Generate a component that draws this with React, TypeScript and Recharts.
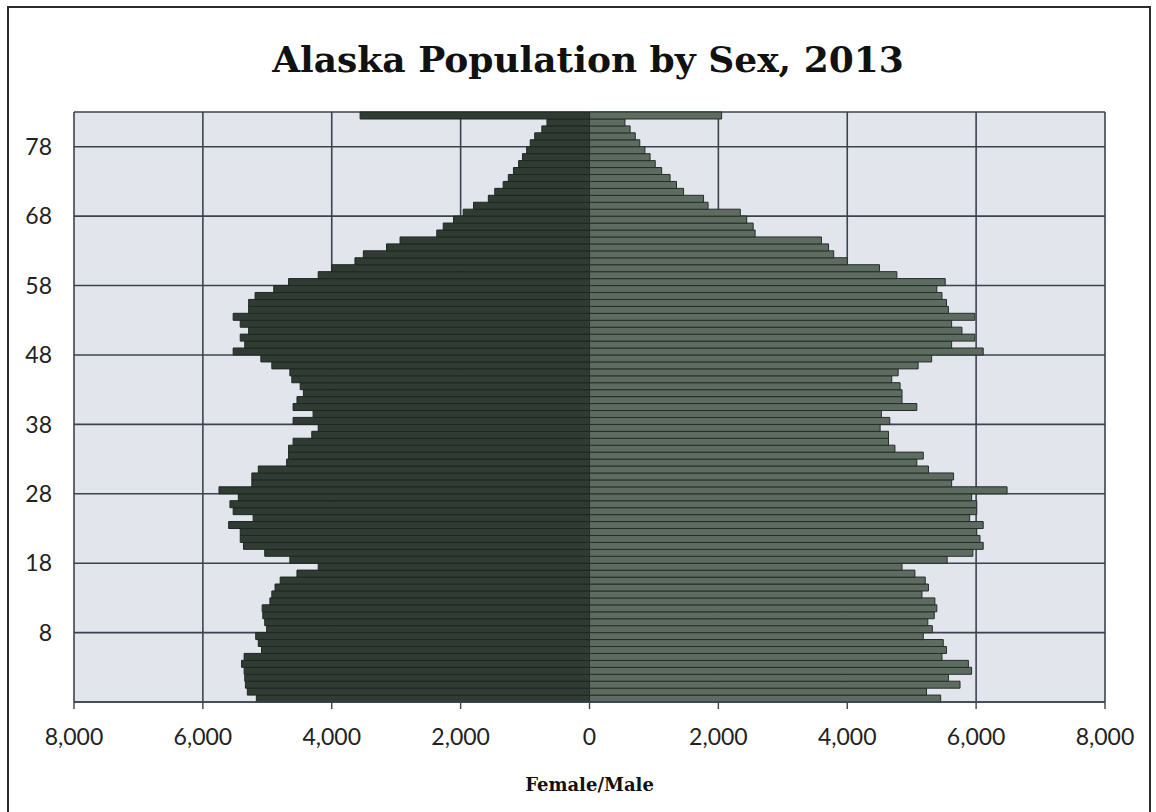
import React from "react";
import { BarChart, Bar, XAxis, YAxis, CartesianGrid } from "recharts";

// one row per single year, youngest at the bottom (index 0)
const ages = Array.from({ length: 85 }, (_, i) => i);

const female = [
  5170, 5310, 5340, 5350, 5360, 5400, 5360, 5090, 5140, 5180,
  5010, 5040, 5070, 5080, 4960, 4930, 4880, 4800, 4540, 4210,
  4650, 5040, 5370, 5420, 5420, 5600, 5220, 5530, 5580, 5450,
  5750, 5240, 5240, 5140, 4700, 4670, 4670, 4600, 4310, 4210,
  4600, 4290, 4600, 4540, 4440, 4490, 4620, 4650, 4930, 5100,
  5530, 5350, 5420, 5290, 5420, 5530, 5290, 5290, 5190, 4900,
  4670, 4210, 4000, 3640, 3510, 3150, 2940, 2370, 2270, 2110,
  1960, 1800, 1570, 1470, 1340, 1260, 1180, 1100, 1040, 975,
  920, 850, 740, 660, 3560,
];

const male = [
  5450, 5230, 5750, 5570, 5930, 5880, 5470, 5540, 5490, 5180,
  5320, 5250, 5350, 5390, 5360, 5160, 5260, 5210, 5050, 4850,
  5550, 5950, 6110, 6060, 6010, 6110, 5900, 6010, 6010, 5930,
  6480, 5620, 5650, 5260, 5080, 5180, 4740, 4640, 4640, 4510,
  4660, 4530, 5080, 4850, 4850, 4820, 4690, 4790, 5100, 5310,
  6110, 5620, 5980, 5780, 5620, 5980, 5570, 5540, 5470, 5390,
  5520, 4770, 4500, 4000, 3790, 3710, 3600, 2570, 2540, 2440,
  2340, 1840, 1770, 1460, 1350, 1250, 1120, 1020, 940, 860,
  780, 710, 630, 550, 2050,
];

// gridlines sit on the lower edge of these rows
const gridRows = [10, 20, 30, 40, 50, 60, 70, 80];
const ageTickLabels = ["8", "18", "28", "38", "48", "58", "68", "78"];
const xTicks = [-8000, -6000, -4000, -2000, 0, 2000, 4000, 6000, 8000];

const data = ages.map((age, i) => ({ age, female: -female[i], male: male[i] }));

const W = 1156;
const H = 812;
const PLOT_H = 590;
const band = PLOT_H / ages.length;
const gridColor = "#3b4350";
const labelFont = "Lato, 'Open Sans', sans-serif";

function AgeTick(props: any) {
  const { x, y, payload } = props;
  const idx = gridRows.indexOf(payload.value);
  if (idx < 0) return <g />;
  return (
    <text
      x={x}
      y={y + band / 2}
      dy="0.36em"
      textAnchor="end"
      fontSize={23}
      fontFamily={labelFont}
      fill="#222"
    >
      {ageTickLabels[idx]}
    </text>
  );
}

export default function App() {
  return (
    <div
      style={{
        position: "absolute",
        left: 0,
        top: 0,
        width: W,
        height: H,
        overflow: "hidden",
        background: "#fff",
      }}
    >
      <div
        style={{
          position: "absolute",
          left: 7,
          top: 6,
          width: 1144,
          height: 820,
          border: "2px solid #2a2a2a",
          boxSizing: "border-box",
        }}
      />
      <div
        style={{
          position: "absolute",
          left: 88,
          top: 37,
          width: 1000,
          textAlign: "center",
          fontFamily: "'DejaVu Serif', serif",
          fontWeight: "bold",
          fontSize: 36,
          lineHeight: "44px",
          color: "#111",
        }}
      >
        Alaska Population by Sex, 2013
      </div>
      <div style={{ position: "absolute", left: 0, top: 0 }}>
        <BarChart
          width={W}
          height={H}
          data={data}
          layout="vertical"
          stackOffset="sign"
          barCategoryGap={0}
          margin={{ top: 112, right: 51, left: 14, bottom: 60 }}
        >
          <CartesianGrid
            fill="#e3e5ed"
            stroke={gridColor}
            strokeWidth={1.6}
            horizontalCoordinatesGenerator={({ offset }: any) =>
              [0, ...gridRows, ages.length].map(
                (k) => offset.top + offset.height * (1 - k / ages.length)
              )
            }
          />
          <XAxis
            type="number"
            domain={[-8000, 8000]}
            ticks={xTicks}
            interval={0}
            allowDataOverflow
            height={50}
            tickSize={7}
            tickMargin={20}
            tickFormatter={(v: number) => Math.abs(v).toLocaleString("en-US")}
            tick={{ fontSize: 23, fontFamily: labelFont, fill: "#222" }}
            axisLine={{ stroke: gridColor, strokeWidth: 1.6 }}
            tickLine={{ stroke: gridColor, strokeWidth: 1.4 }}
            label={{
              value: "Female/Male",
              position: "bottom",
              offset: 26,
              style: {
                fontFamily: "'DejaVu Serif', serif",
                fontWeight: "bold",
                fontSize: 18,
                fill: "#111",
              },
            }}
          />
          <YAxis
            type="category"
            dataKey="age"
            reversed
            width={60}
            interval={0}
            axisLine={false}
            tickLine={false}
            tickMargin={16}
            tick={<AgeTick />}
          />
          <Bar
            dataKey="female"
            stackId="pop"
            fill="#303c33"
            stroke="#1e2720"
            strokeWidth={1}
            isAnimationActive={false}
          />
          <Bar
            dataKey="male"
            stackId="pop"
            fill="#5e6b61"
            stroke="#252e28"
            strokeWidth={1}
            isAnimationActive={false}
          />
        </BarChart>
      </div>
    </div>
  );
}
